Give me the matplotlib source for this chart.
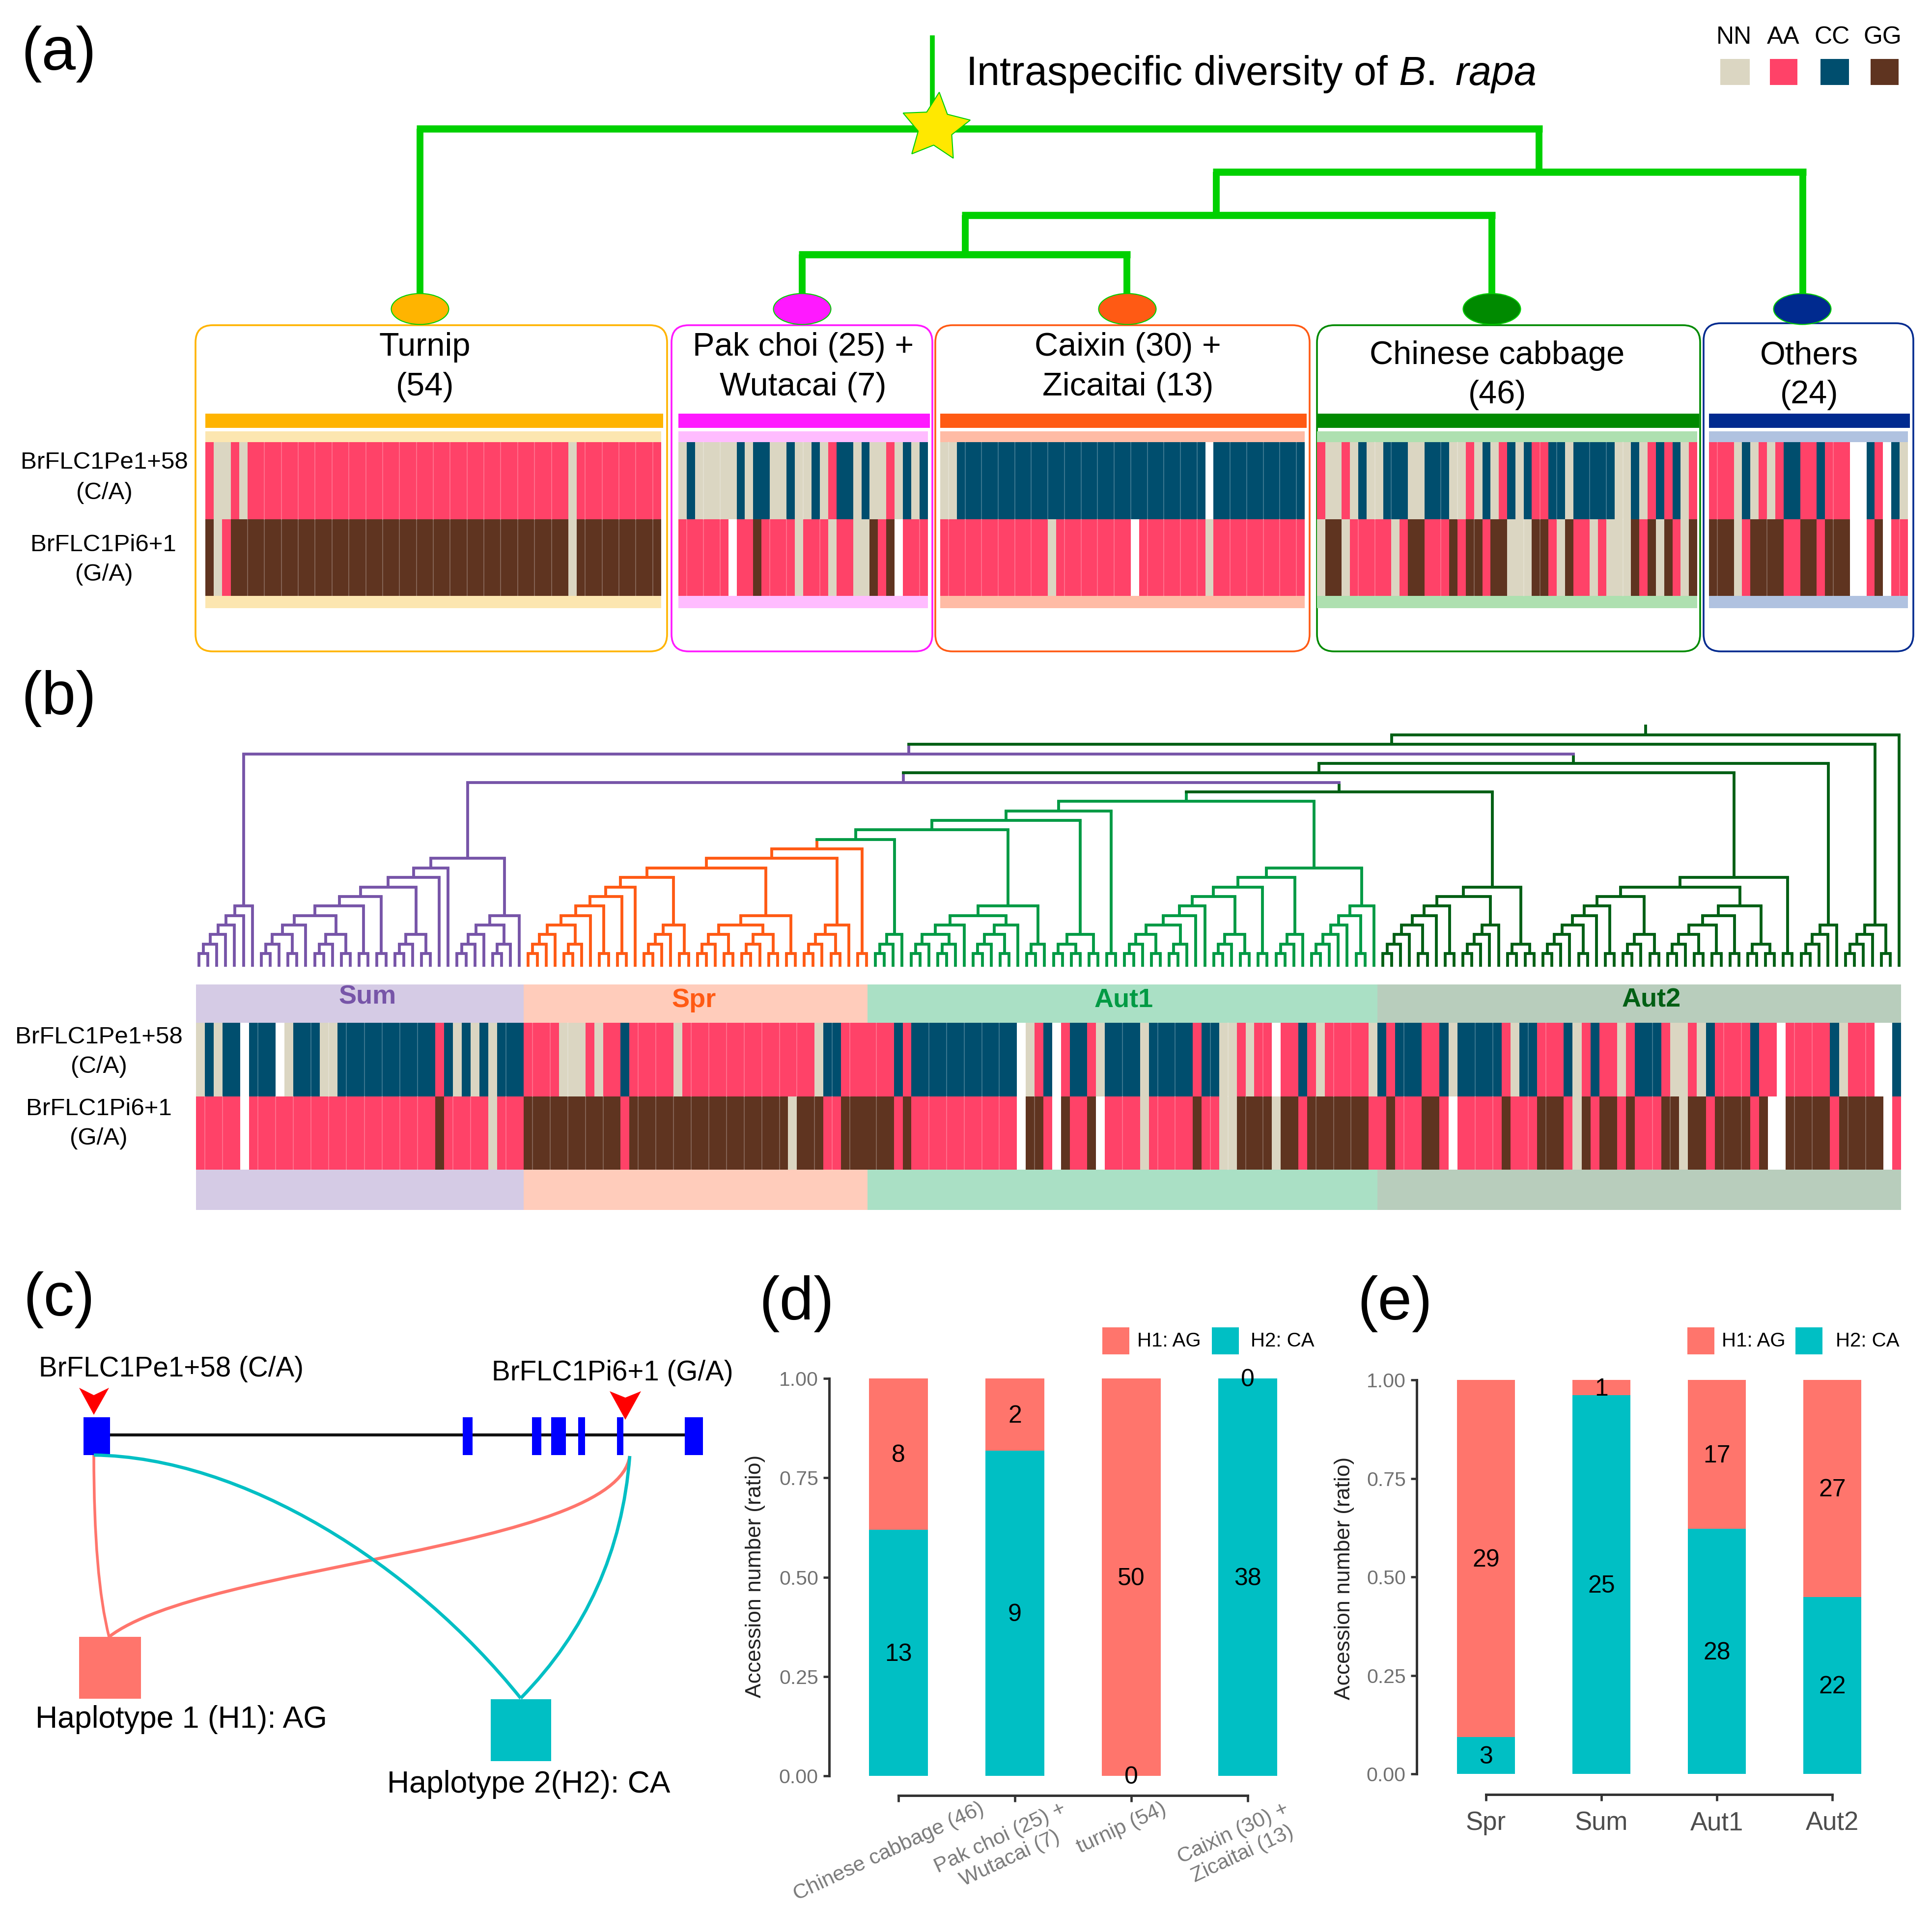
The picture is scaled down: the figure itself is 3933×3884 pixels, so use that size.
"""Haplotype figure for BrFLC1: tree, genotype strips and stacked bars."""
import matplotlib
matplotlib.use("Agg")
import matplotlib.pyplot as plt
from matplotlib.patches import Ellipse, FancyBboxPatch, PathPatch, Polygon, Rectangle
from matplotlib.path import Path
from matplotlib.transforms import ScaledTranslation

plt.rcParams["font.family"] = ["Liberation Sans", "DejaVu Sans"]
plt.rcParams["mathtext.fontset"] = "custom"
plt.rcParams["mathtext.rm"] = "Liberation Sans"
plt.rcParams["mathtext.it"] = "Liberation Sans:italic"

W, H = 3933, 3884

GENO_COLORS = {"N": "#dbd6c2", "A": "#ff4268", "C": "#004e6e", "G": "#5f3420", "W": "#ffffff"}
LEGEND_KEYS = ["NN", "AA", "CC", "GG"]
CORAL = "#ff756c"
TEAL = "#00bfc4"

# panel (a) genotypes, run-length coded per accession
TURNIP_PE = "A N2 A N A38 N A10"
TURNIP_PI = "G N A G2 G38 N G10"
PAK_PE = "N C N5 C N C2 N2 C N2 C N A C2 N C N2 A N C N C"
PAK_PI = "A6 W A2 G A4 N A3 N A2 N2 G A G W A3"
CAIXIN_PE = "N2 C30 W C11"
CAIXIN_PI = "A13 N A9 W A8 N A11"
CABBAGE_PE = "A N2 A N C N2 C3 N2 C3 N2 A N C N A C N C A2 C2 N C5 N2 C N A C A C N A"
CABBAGE_PI = "N G2 N A5 N A G2 A3 G A G2 A G2 N3 G2 A N G A2 N A N3 G A G N G A N G"
OTHERS_PE = "A3 N C N A N A C2 A2 C A3 W2 C A W C N"
OTHERS_PI = "G3 N A G4 A2 G2 A G3 W2 A G W A2"

GROUP_TITLES = [("Turnip", "(54)"), ("Pak choi (25) +", "Wutacai (7)"),
                ("Caixin (30) +", "Zicaitai (13)"), ("Chinese cabbage", "(46)"),
                ("Others", "(24)")]
GROUP_COLORS = ["#ffb400", "#ff19ff", "#ff5a14", "#008a00", "#002a8f"]
GROUP_LIGHT = ["#fce6b0", "#ffbcff", "#ffbba5", "#aee0b0", "#b0c2e0"]
GROUP_PE = [TURNIP_PE, PAK_PE, CAIXIN_PE, CABBAGE_PE, OTHERS_PE]
GROUP_PI = [TURNIP_PI, PAK_PI, CAIXIN_PI, CABBAGE_PI, OTHERS_PI]
GROUP_SPANS = [(418, 1346), (1381, 1889), (1914, 2656), (2681, 3455), (3479, 3884)]
GROUP_BOXES = [(398, 1358), (1367, 1898), (1904, 2666), (2681, 3461), (3468, 3895)]
GROUP_TEXT_X = [865, 1635, 2296, 3048, 3683]
GROUP_TEXT_Y = [(701, 782), (701, 782), (701, 782), (718, 798), (718, 798)]
NODE_X = [855, 1633, 2295, 3037, 3669]

# panel (a) tree: left, right, height, stem position
TREE_BRACKETS = [(855, 3133, 262), (2476, 3670, 350), (1965, 3037, 438), (1633, 2294, 518)]
TREE_STEMS = [(855, 262, 600), (3133, 262, 350), (3670, 350, 600), (2476, 350, 438),
              (3037, 438, 600), (1965, 438, 518), (1633, 518, 600), (2294, 518, 600)]

# panel (b) seasons and genotypes
SEASONS = ["Sum", "Spr", "Aut1", "Aut2"]
SEASON_TEXT = ["#7755a8", "#ff5a14", "#009a44", "#005f14"]
SEASON_BAND = ["#d5cbe5", "#ffccbb", "#aae0c5", "#b8cdbc"]
SEASON_EDGES = [399, 1066, 1766, 2804, 3870]
SEASON_PE = ["N C N C2 W C3 W N C3 N2 C11 A C N C N C N C3",
             "A4 N3 A N A2 C A5 N A15 N C2 A3",
             "A3 C A C12 W N A C W A C2 A N C4 N C5 A C2 N2 A N A2 W A2 C A N A5 N",
             "C A C3 A2 C N C5 A N C2 A3 C N A C A2 N A C3 A N2 A N C A4 C A2 W A5 C N A3 W2 C"]
SEASON_PI = ["A5 W A21 G A5 N A3",
             "G11 A G18 N G3 A2 G3",
             "G3 A G A12 W G2 A W G A2 G W A4 N A5 G A2 N2 G4 N G2 A G7 A",
             "A G A3 G2 A W A5 G A3 G3 A N G A G2 A G A3 G2 N G2 A G4 A G W2 G5 A G5 W A"]
SEASON_TEXT_POS = [(748, 2023), (1413, 2030), (2288, 2030), (3362, 2030)]

# panel (b) dendrogram topology, 0 is a leaf, third item is a colour change
P2 = (0, 0)
TRI = (P2, 0)
QUAD = (TRI, P2)
T3 = (TRI, 0)

SUM_A = (((((P2, 0), 0), 0), 0), 0)
SUM_B_L8 = ((((((QUAD, 0), QUAD), P2), P2)), QUAD)
SUM_B_R = ((T3, TRI), 0)
SUM_B = (((SUM_B_L8, 0), 0), SUM_B_R)

SPR_L8 = ((((((T3, TRI), 0), P2), P2), 0))
SPR_L11 = (((SPR_L8, (T3, P2)), ((QUAD, QUAD), P2)), (QUAD, 0))
SPR = (SPR_L11, P2, "O")

AUT1_LEFT = ((SPR, T3), ((((TRI, TRI), 0), (QUAD, 0)), TRI))
AUT1_L9 = ((((((QUAD, TRI), 0), 0), QUAD), P2), T3)
AUT1_R6 = (((T3, 0), P2), 0)
AUT1 = (((AUT1_LEFT, ((P2, P2), P2)), P2), (AUT1_L9, AUT1_R6), "G")

AUT2_A = (((((T3, P2), 0), P2), (T3, 0)), (P2, P2))
AUT2_B = (((((((T3, P2), 0), P2), QUAD), (((QUAD, P2), P2), (P2, P2))), P2))
AUT2_C = (T3, 0)
AUT2_D = (T3, P2)

NODE18 = (AUT1, AUT2_A, "D")
NODE19 = (SUM_B, NODE18, "P")
NODE21 = ((NODE19, AUT2_B), AUT2_C, "D")
NODE22 = (SUM_A, NODE21, "P")
TREE_ROOT = ((NODE22, AUT2_D), 0, "D")
TREE_COLORS = {"P": "#7755a8", "O": "#ff5a14", "G": "#009a44", "D": "#005f14"}

# panel (c) gene model
EXONS = [(170, 224), (942, 962), (1083, 1102), (1122, 1152), (1177, 1191), (1256, 1269), (1394, 1431)]

# panels (d) and (e)
D_LABELS = ["Chinese cabbage (46)", "Pak choi (25) +\nWutacai (7)", "turnip (54)", "Caixin (30) +\nZicaitai (13)"]
D_H1 = [8, 2, 50, 0]
D_H2 = [13, 9, 0, 38]
E_LABELS = ["Spr", "Sum", "Aut1", "Aut2"]
E_H1 = [29, 1, 17, 27]
E_H2 = [3, 25, 28, 22]
Y_TICKS = [0.0, 0.25, 0.5, 0.75, 1.0]

LEAF_STEP = 18.12
LEAF_X0 = 405
LEAF_Y = 1968
LEVEL1_Y = 1941
LEVEL_STEP = 19.35


def expand(runs):
    """'A3 C' -> 'AAAC'"""
    out = ""
    for run in runs.split():
        out += run[0] * (int(run[1:]) if len(run) > 1 else 1)
    return out


def draw_cells(ax, codes, x0, x1, y0, y1):
    step = (x1 - x0) / len(codes)
    ax.bar([x0 + i * step for i in range(len(codes))], y1 - y0, step, bottom=y0, align="edge",
           color=[GENO_COLORS[c] for c in codes], linewidth=0, zorder=3)
    # faint seam at every second accession inside a block of one colour
    for i in range(1, len(codes), 2):
        if codes[i] == codes[i - 1] and codes[i] != "W":
            ax.plot([x0 + i * step] * 2, [y0, y1], color="white", alpha=0.3, lw=1.1, zorder=4)


def txt(ax, x, y, s, size, **kw):
    kw.setdefault("ha", "center")
    kw.setdefault("va", "center")
    ax.text(x, y + 6, s, fontsize=size, **kw)


def layout_tree(node, tag, segs, leaf_x):
    """Returns x, level and colour tag of a node, collecting its segments."""
    if node == 0:
        x = leaf_x[0]
        leaf_x[0] += LEAF_STEP
        return x, 0, None
    if len(node) == 3:
        tag = node[2]
    lx, ll, ltag = layout_tree(node[0], tag, segs, leaf_x)
    rx, rl, rtag = layout_tree(node[1], tag, segs, leaf_x)
    level = max(ll, rl) + 1
    segs.append((tag, level, (lx, ll, ltag), (rx, rl, rtag)))
    return (lx + rx) / 2, level, tag


def level_y(level):
    return LEAF_Y if level == 0 else LEVEL1_Y - LEVEL_STEP * (level - 1)


def plot_panel_a(ax):
    txt(ax, 120, 104, "(a)", 90)
    txt(ax, 1966, 145, r"Intraspecific diversity of $\mathit{B.}$ $\mathit{rapa}$", 59.5, ha="left")
    for key, cx, sx0, sx1 in zip(LEGEND_KEYS, [3530, 3630, 3730, 3832], [3502, 3603, 3706, 3808],
                                 [3562, 3659, 3764, 3865]):
        txt(ax, cx, 70, key, 36)
        ax.add_patch(Rectangle((sx0, 120), sx1 - sx0, 53, color=GENO_COLORS[key[0]], lw=0))

    green = "#00d000"
    ax.plot([1898, 1898], [72, 262], color=green, lw=7, solid_capstyle="butt")
    for x0, x1, y in TREE_BRACKETS:
        ax.plot([x0 - 7, x1 + 7], [y, y], color=green, lw=10.5, solid_capstyle="butt")
    for x, y0, y1 in TREE_STEMS:
        ax.plot([x, x], [y0, y1], color=green, lw=10, solid_capstyle="butt")
    ax.plot([1904], [259], marker=(5, 1, -6), ms=104, mfc="#ffe800", mec=green, mew=1.5, zorder=4)

    for i, title in enumerate(GROUP_TITLES):
        cx = NODE_X[i]
        ax.add_patch(Ellipse((cx, 629), 117, 63, fc=GROUP_COLORS[i], ec=green, lw=1.5, zorder=3))
        bx0, bx1 = GROUP_BOXES[i]
        top = 658 if i == 4 else 662
        ax.add_patch(FancyBboxPatch((bx0 + 35, top + 35), bx1 - bx0 - 70, 1326 - top - 70,
                                    boxstyle="round,pad=35,rounding_size=35", fc="white",
                                    ec=GROUP_COLORS[i], lw=2.6, zorder=1))
        for line, y in zip(title, GROUP_TEXT_Y[i]):
            txt(ax, GROUP_TEXT_X[i], y, line, 48, zorder=2)
        x0, x1 = GROUP_SPANS[i]
        ax.add_patch(Rectangle((x0, 842), x1 - x0 + 4, 29, color=GROUP_COLORS[i], lw=0, zorder=3))
        ax.add_patch(Rectangle((x0, 878), x1 - x0, 22, color=GROUP_LIGHT[i], lw=0, zorder=2))
        ax.add_patch(Rectangle((x0, 1213), x1 - x0, 25, color=GROUP_LIGHT[i], lw=0, zorder=2))
        draw_cells(ax, expand(GROUP_PE[i]), x0, x1, 900, 1057)
        draw_cells(ax, expand(GROUP_PI[i]), x0, x1, 1057, 1213)

    txt(ax, 212, 936, "BrFLC1Pe1+58", 35.5)
    txt(ax, 212, 997, "(C/A)", 35.5)
    txt(ax, 210, 1104, "BrFLC1Pi6+1", 35.5)
    txt(ax, 212, 1164, "(G/A)", 35.5)


def plot_panel_b(ax):
    txt(ax, 120, 1416, "(b)", 90)
    segs = []
    root_x, root_level, _ = layout_tree(TREE_ROOT, "D", segs, [LEAF_X0])
    lw = 4.2
    for tag, level, left, right in segs:
        color = TREE_COLORS[tag]
        y = level_y(level)
        ax.plot([left[0], right[0]], [y, y], color=color, lw=lw, solid_capstyle="projecting", zorder=3)
        for cx, clev, ctag in (left, right):
            c = TREE_COLORS[ctag] if ctag else color
            ax.plot([cx, cx], [y, level_y(clev)], color=c, lw=lw, solid_capstyle="butt", zorder=2)
    ax.plot([root_x, root_x], [1475, level_y(root_level)], color=TREE_COLORS["D"], lw=lw, solid_capstyle="butt")

    for i, name in enumerate(SEASONS):
        x, x1 = SEASON_EDGES[i], SEASON_EDGES[i + 1]
        ax.add_patch(Rectangle((x, 2004), x1 - x, 78, color=SEASON_BAND[i], lw=0))
        ax.add_patch(Rectangle((x, 2381), x1 - x, 82, color=SEASON_BAND[i], lw=0))
        draw_cells(ax, expand(SEASON_PE[i]), x, x1, 2082, 2232)
        draw_cells(ax, expand(SEASON_PI[i]), x, x1, 2232, 2381)
        sx, sy = SEASON_TEXT_POS[i]
        txt(ax, sx, sy, name, 39, color=SEASON_TEXT[i], fontweight="bold")

    txt(ax, 201, 2106, "BrFLC1Pe1+58", 35.5)
    txt(ax, 201, 2166, "(C/A)", 35.5)
    txt(ax, 201, 2251, "BrFLC1Pi6+1", 35.5)
    txt(ax, 201, 2311, "(G/A)", 35.5)


def curve(ax, pts, color, lw):
    codes = [Path.MOVETO] + ([Path.CURVE3] * 2 if len(pts) == 3 else [Path.CURVE4] * 3)
    ax.add_patch(PathPatch(Path(pts, codes), fc="none", ec=color, lw=lw, zorder=3))


def plot_panel_c(ax):
    txt(ax, 120, 2640, "(c)", 90)
    txt(ax, 79, 2781, "BrFLC1Pe1+58 (C/A)", 40.7, ha="left")
    txt(ax, 1001, 2789, "BrFLC1Pi6+1 (G/A)", 40.7, ha="left")
    ax.plot([170, 1431], [2921, 2921], color="#111111", lw=4.4, solid_capstyle="butt", zorder=2)
    for x0, x1 in EXONS:
        ax.add_patch(Rectangle((x0, 2885), x1 - x0, 77, color="#0000ff", lw=0, zorder=3))
    ax.add_patch(Polygon([(161, 2825), (191, 2840), (222, 2825), (191, 2880)], color="#ff0000", lw=0))
    ax.add_patch(Polygon([(1241, 2832), (1273, 2845), (1305, 2832), (1273, 2890)], color="#ff0000", lw=0))

    curve(ax, [(191, 2962), (191, 3211), (222, 3332)], CORAL, 4)
    curve(ax, [(222, 3332), (415, 3183), (1255, 3155), (1282, 2964)], CORAL, 4.6)
    curve(ax, [(191, 2962), (494, 2966), (840, 3183), (1060, 3457)], TEAL, 4.8)
    curve(ax, [(1060, 3457), (1260, 3253), (1282, 2964)], TEAL, 4.8)

    ax.add_patch(Rectangle((161, 3332), 126, 126, color=CORAL, lw=0, zorder=4))
    ax.add_patch(Rectangle((999, 3459), 123, 126, color=TEAL, lw=0, zorder=4))
    txt(ax, 72, 3495, "Haplotype 1 (H1): AG", 45, ha="left")
    txt(ax, 788, 3626, "Haplotype 2(H2): CA", 45, ha="left")


def plot_stack(fig, left, right, top, axis_y, zero_y, first_tick, spacing, h1, h2, labels, rot):
    ax = fig.add_axes([left / W, 1 - axis_y / H, (right - left) / W, (axis_y - top) / H])
    ax.set_facecolor("none")
    ax.set_xlim((left - first_tick) / spacing, (right - first_tick) / spacing)
    ax.set_ylim(-(axis_y - zero_y) / (zero_y - top), 1)
    for i, (a, b) in enumerate(zip(h1, h2)):
        total = a + b
        ax.bar(i, b / total, 0.505, color=TEAL, linewidth=0)
        ax.bar(i, a / total, 0.505, bottom=b / total, color=CORAL, linewidth=0)
        ax.text(i, b / total / 2 - 0.004, str(b), fontsize=36, ha="center", va="center", clip_on=False)
        ax.text(i, b / total + a / total / 2 - 0.004, str(a), fontsize=36, ha="center", va="center", clip_on=False)
    for side in ("top", "right"):
        ax.spines[side].set_visible(False)
    for side in ("left", "bottom"):
        ax.spines[side].set_linewidth(3.6)
        ax.spines[side].set_color("#333333")
    ax.spines["left"].set_bounds(0, 1)
    ax.spines["bottom"].set_bounds(0, len(h1) - 1)
    ax.set_yticks(Y_TICKS, [f"{t:.2f}" for t in Y_TICKS])
    ax.set_xticks(range(len(labels)))
    ax.tick_params(axis="y", length=9, width=3.4, color="#333333", labelsize=29.5, labelcolor="#707070", pad=7)
    if rot:
        ax.tick_params(axis="x", length=9, width=3.4, color="#333333", pad=2)
        ax.set_xticklabels(labels, rotation=rot, ha="center", va="top", fontsize=31,
                           color="#7a7a7a", linespacing=1.2)
        shift = ScaledTranslation(-20 / 100, 8 / 100, fig.dpi_scale_trans)
        for label in ax.get_xticklabels():
            label.set_transform(label.get_transform() + shift)
    else:
        ax.tick_params(axis="x", length=9, width=3.4, color="#333333", pad=15)
        ax.set_xticklabels(labels, fontsize=38, color="#4d4d4d")
    return ax


def plot_legend(ax, x_sw1, x_t1, x_sw2, x_t2):
    ax.add_patch(Rectangle((x_sw1, 2702), 55, 55, color=CORAL, lw=0))
    ax.add_patch(Rectangle((x_sw2, 2702), 55, 55, color=TEAL, lw=0))
    txt(ax, x_t1, 2724, "H1: AG", 29, ha="left")
    txt(ax, x_t2, 2724, "H2: CA", 29, ha="left")


def main():
    fig = plt.figure(figsize=(W / 100, H / 100), dpi=100, facecolor="white")
    canvas = fig.add_axes([0, 0, 1, 1])
    canvas.set_xlim(0, W)
    canvas.set_ylim(H, 0)
    canvas.axis("off")

    plot_panel_a(canvas)
    plot_panel_b(canvas)
    plot_panel_c(canvas)

    txt(canvas, 1622, 2648, "(d)", 90)
    txt(canvas, 2840, 2648, "(e)", 90)
    plot_stack(fig, 1688, 2682, 2806, 3655, 3615, 1829, 237, D_H1, D_H2, D_LABELS, 25)
    plot_stack(fig, 2884, 3878, 2809, 3653, 3611, 3025, 235, E_H1, E_H2, E_LABELS, 0)
    txt(canvas, 1538, 3203, "Accession number (ratio)", 32, rotation=90, color="#222222")
    txt(canvas, 2737, 3207, "Accession number (ratio)", 32, rotation=90, color="#222222")
    plot_legend(canvas, 2244, 2315, 2467, 2546)
    plot_legend(canvas, 3435, 3505, 3655, 3737)

    fig.savefig("out.png", dpi=100, facecolor="white")
    plt.close(fig)


if __name__ == "__main__":
    main()
